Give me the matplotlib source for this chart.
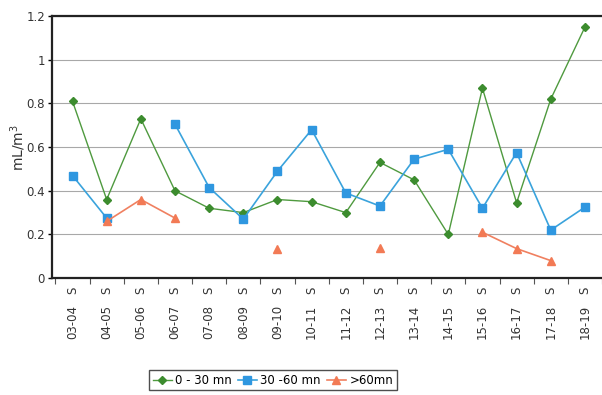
import numpy as np
import matplotlib
matplotlib.use('Agg')
import matplotlib.pyplot as plt

# seasons
seasons = ['03-04', '04-05', '05-06', '06-07', '07-08', '08-09', '09-10', '10-11',
           '11-12', '12-13', '13-14', '14-15', '15-16', '16-17', '17-18', '18-19']

# mL/m3 per duration class (nan = no value)
nan = np.nan
v_0_30 = [0.81, 0.36, 0.73, 0.40, 0.32, 0.30, 0.36, 0.35,
          0.30, 0.53, 0.45, 0.20, 0.87, 0.345, 0.82, 1.15]
v_30_60 = [0.47, 0.275, nan, 0.705, 0.415, 0.27, 0.49, 0.68,
           0.39, 0.33, 0.545, 0.59, 0.32, 0.575, 0.22, 0.325]
v_60 = [nan, 0.26, 0.36, 0.275, nan, nan, 0.135, nan,
        nan, 0.14, nan, nan, 0.21, 0.135, 0.08, nan]

x = np.arange(len(seasons))

fig = plt.figure(figsize=(6.02, 3.95), dpi=100)
ax = fig.add_axes([0.0864, 0.296, 0.9136, 0.663])

ax.plot(x, v_0_30, color='#4f9a3f', lw=1.0, marker='D', ms=4.5,
        mfc='#3c8c2e', mec='#3c8c2e', label='0 - 30 mn', zorder=3)
ax.plot(x, v_30_60, color='#3aa3dc', lw=1.2, marker='s', ms=6,
        mfc='#2f97e0', mec='#2f97e0', label='30 -60 mn', zorder=3)
ax.plot(x, v_60, color='#f08060', lw=1.2, marker='^', ms=6,
        mfc='#f27a55', mec='#f27a55', label='>60mn', zorder=3)

ax.set_xlim(-0.6, len(seasons) - 0.5)
ax.set_ylim(0, 1.2)
ax.set_yticks([0, 0.2, 0.4, 0.6, 0.8, 1.0, 1.2])
ax.set_yticklabels(['0', '0.2', '0.4', '0.6', '0.8', '1', '1.2'], fontsize=8.5, color='#333333')
ax.yaxis.grid(True, color='#a8a8a8', lw=0.8)
ax.set_axisbelow(True)
ax.tick_params(axis='y', length=3, width=1, pad=2)

# category boundaries as major ticks, "S" labels at centres
ax.set_xticks(np.arange(len(seasons) + 1) - 0.5)
ax.set_xticklabels([])
ax.tick_params(axis='x', which='major', length=4, width=0.8, color='#555555')
ax.set_xticks(x, labels=['S'] * len(seasons), minor=True)
ax.tick_params(axis='x', which='minor', length=0, pad=6, labelsize=8.5,
               labelrotation=90, labelcolor='#333333')
for i, s in enumerate(seasons):
    ax.text(i, -0.103, s, transform=ax.get_xaxis_transform(), rotation=90,
            ha='center', va='top', fontsize=8.5, color='#333333')

for side in ['top', 'bottom', 'left']:
    ax.spines[side].set_color('#222222')
    ax.spines[side].set_linewidth(1.6)
ax.spines['right'].set_visible(False)

ax.set_ylabel('mL/m$^3$', fontsize=10, color='#333333')
ax.yaxis.set_label_coords(-0.044, 0.5)

leg = fig.legend(loc='center', bbox_to_anchor=(0.4535, 0.037), ncol=3,
                 fontsize=8.5, frameon=True, fancybox=False, handlelength=1.6,
                 handletextpad=0.3, columnspacing=0.5, borderpad=0.3,
                 borderaxespad=0)
leg.get_frame().set_edgecolor('#222222')
leg.get_frame().set_linewidth(1.0)

fig.savefig('out.png', dpi=100)
